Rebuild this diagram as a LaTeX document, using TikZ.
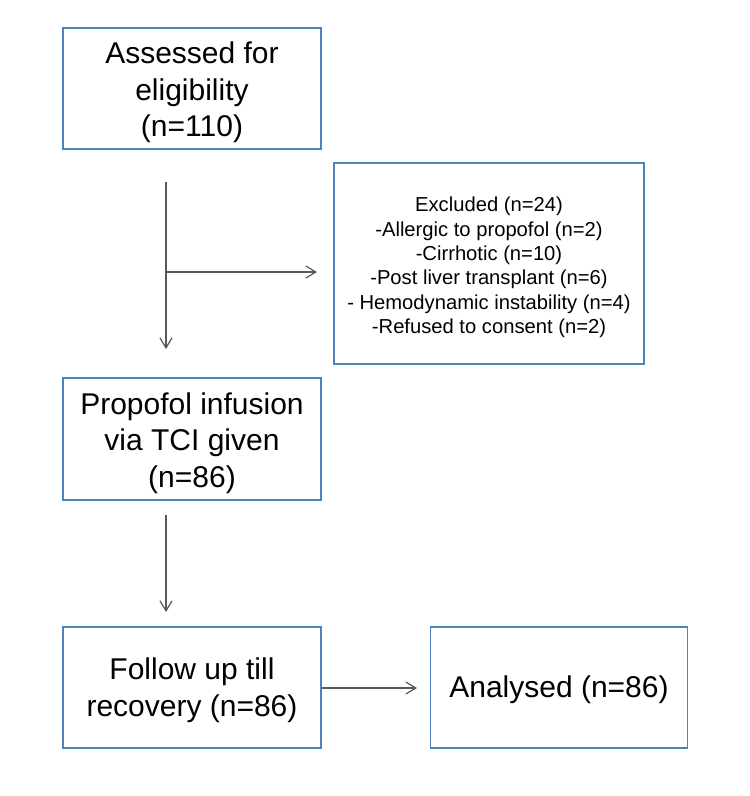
\documentclass[tikz,border=0pt]{standalone}
\usepackage{fontspec}
\setmainfont{Liberation Sans}
\usetikzlibrary{arrows.meta}
\definecolor{boxblue}{RGB}{79,129,189}
\definecolor{arrgrey}{RGB}{89,89,89}
\begin{document}
\begin{tikzpicture}[x=1pt,y=-1pt,
  flowbox/.style={draw=boxblue, line width=1.8pt, rectangle, inner sep=0pt},
  boxtext/.style={align=center, text=black, inner sep=0pt},
  bigtext/.style={boxtext, font=\fontsize{30}{36.7}\selectfont},
  smalltext/.style={boxtext, font=\fontsize{20.2}{24.4}\selectfont},
  arr/.style={draw=arrgrey, line width=1.2pt, -{Straight Barb[length=10pt,width=12pt,line width=1.2pt]}}]
\useasboundingbox (0,0) rectangle (750,796);
\fill[white] (0,0) rectangle (750,796);

\node[flowbox,minimum width=258pt,minimum height=121pt] (b1) at (192,88.5) {};
\node[flowbox,minimum width=310pt,minimum height=201pt] (ex) at (489,263.5) {};
\node[flowbox,minimum width=258pt,minimum height=122pt] (b2) at (192,439) {};
\node[flowbox,minimum width=258pt,minimum height=121pt] (b3) at (192,687.5) {};
\node[flowbox,minimum width=257pt,minimum height=121pt] (b4) at (559,687.5) {};

\node[bigtext] (t1) at ([yshift=-4pt]b1.center) {Assessed for\\eligibility\\(n=110)};
\node[smalltext] (tex) at ([yshift=-4pt]ex.center)
  {Excluded (n=24)\\-Allergic to propofol (n=2)\\-Cirrhotic (n=10)\\-Post liver transplant (n=6)\\- Hemodynamic instability (n=4)\\-Refused to consent (n=2)};
\node[bigtext] (t2) at ([yshift=-4pt]b2.center) {Propofol infusion\\via TCI given\\(n=86)};
\node[bigtext] (t3) at ([yshift=-3pt]b3.center) {Follow up till\\recovery (n=86)};
\node[bigtext] (t4) at ([yshift=-2pt]b4.center) {Analysed (n=86)};

\coordinate (v1s) at (166,182);
\coordinate (v1e) at (166,349);
\coordinate (hs) at (166,272);
\coordinate (he) at (317,272);
\coordinate (v2s) at (166,515);
\coordinate (v2e) at (166,612);
\coordinate (h2e) at (417,688);

\draw[arr] (v1s) -- (v1e);
\draw[arr] (hs) -- (he);
\draw[arr] (v2s) -- (v2e);
\draw[arr] (b3.east |- h2e) -- (h2e);
\end{tikzpicture}
\end{document}
